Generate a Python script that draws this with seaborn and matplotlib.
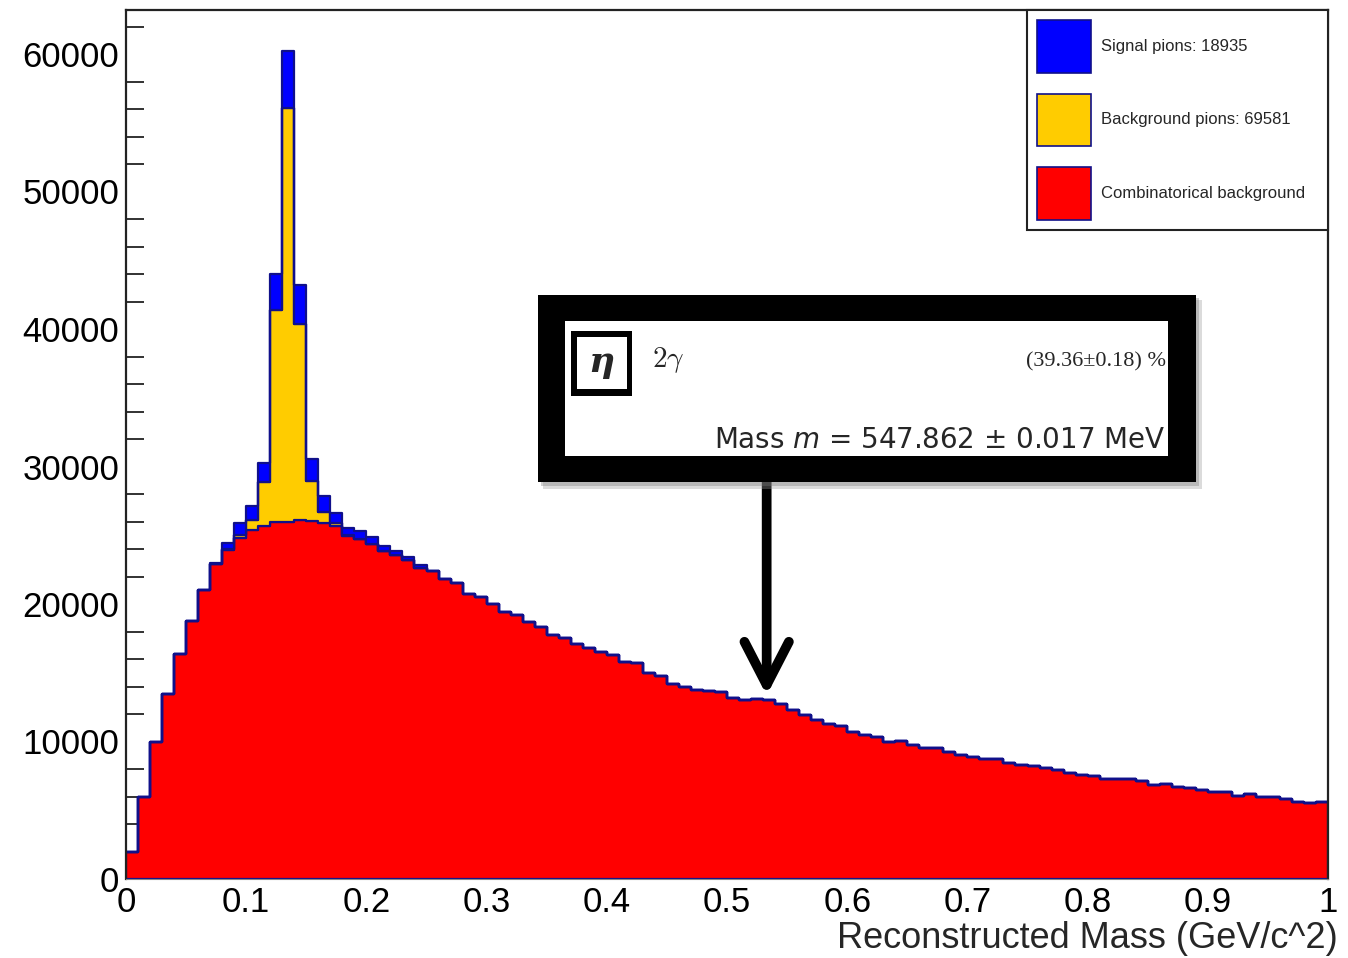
import numpy as np
import pandas as pd
import seaborn as sns
import matplotlib
matplotlib.use("Agg")
import matplotlib.pyplot as plt
from matplotlib.patches import Rectangle, Patch

# ---------------- data (counts per 0.01 GeV bin, 0..1) ----------------
n_bins = 100
bin_centers = (np.arange(n_bins) + 0.5) / n_bins

combinatorial = [
    1950, 6000, 10000, 13450, 16400, 18800, 21000, 22900, 23900, 24800,
    25400, 25650, 25950, 26000, 26100, 26050, 25900, 25650, 24950, 24750,
    24400, 23850, 23600, 23200, 22650, 22400, 21850, 21500, 20750, 20500,
    20000, 19400, 19200, 18700, 18350, 17750, 17500, 17100, 16800, 16500,
    16300, 15800, 15700, 15000, 14800, 14200, 14000, 13750, 13650, 13600,
    13200, 13000, 13100, 13000, 12700, 12300, 11900, 11600, 11300, 11100,
    10700, 10500, 10300, 10000, 10050, 9750, 9500, 9500, 9250, 9050,
    8850, 8700, 8750, 8450, 8300, 8200, 8100, 7900, 7700, 7550,
    7500, 7300, 7300, 7250, 7100, 6850, 6900, 6700, 6600, 6450,
    6300, 6300, 6050, 6200, 6000, 5950, 5800, 5600, 5500, 5600,
]
background_pions = [0] * 8 + [100, 250, 700, 3250, 15450, 30100, 14300, 2900, 800, 250, 100] + [0] * 81
signal_pions = [0] * 7 + [50, 450, 850, 1000, 1350, 2600, 4100, 2800, 1600, 1150, 700,
                          450, 550, 500, 400, 250, 200, 200] + [0] * 75

labels = ["Signal pions: 18935", "Background pions: 69581", "Combinatorical background"]
colors = ["#0000FF", "#FFCC00", "#FF0000"]
edge_col = "#10108A"
x_tick_values = [0, 0.1, 0.2, 0.3, 0.4, 0.5, 0.6, 0.7, 0.8, 0.9, 1.0]
x_tick_labels = ["0", "0.1", "0.2", "0.3", "0.4", "0.5", "0.6", "0.7", "0.8", "0.9", "1"]
y_tick_values = [0, 10000, 20000, 30000, 40000, 50000, 60000]

df = pd.concat([
    pd.DataFrame({"mass": bin_centers, "count": signal_pions, "component": labels[0]}),
    pd.DataFrame({"mass": bin_centers, "count": background_pions, "component": labels[1]}),
    pd.DataFrame({"mass": bin_centers, "count": combinatorial, "component": labels[2]}),
], ignore_index=True)

# ---------------- figure ----------------
sns.set_theme(style="white")
plt.rcParams["font.family"] = ["Liberation Sans", "DejaVu Sans"]
plt.rcParams["mathtext.fontset"] = "cm"

W, H = 1348, 958
fig = plt.figure(figsize=(W / 100, H / 100), dpi=100)
ax = fig.add_axes([126 / W, 1 - 879 / H, (1328 - 126) / W, (879 - 10) / H])

sns.histplot(
    data=df, x="mass", weights="count", hue="component", hue_order=labels,
    bins=n_bins, binrange=(0, 1), multiple="stack", element="step", palette=colors,
    edgecolor=edge_col, linewidth=1.6, alpha=1, legend=False, ax=ax,
)

ax.set_xlim(0, 1)
ax.set_ylim(0, 63200)
ax.set_ylabel("")
ax.set_xticks(x_tick_values)
ax.set_xticklabels(x_tick_labels, fontsize=25)
ax.set_yticks(y_tick_values)
ax.set_yticks(np.arange(0, 63201, 2000), minor=True)
ax.set_yticklabels([str(v) for v in y_tick_values], fontsize=25)
ax.tick_params(axis="x", length=0, pad=5, colors="black")
ax.tick_params(axis="y", which="major", direction="in", length=25, width=1.3, pad=5, colors="#222222",
               labelcolor="black")
ax.tick_params(axis="y", which="minor", direction="in", length=13, width=1.3, colors="#222222", left=True)

for s in ["left", "top", "right"]:
    ax.spines[s].set_visible(True)
    ax.spines[s].set_color("#222222")
    ax.spines[s].set_linewidth(1.6)
ax.spines["bottom"].set_color("#888888")
ax.spines["bottom"].set_linewidth(0.8)

ax.set_xlabel("Reconstructed Mass (GeV/c^2)", fontsize=26, ha="right", va="center")
ax.xaxis.set_label_coords((1338 - 126) / 1202, -(938 - 879) / 869)

# legend
handles = [Patch(facecolor=c, edgecolor=edge_col, linewidth=1.2) for c in colors]
leg = ax.legend(handles, labels, loc="upper left",
                bbox_to_anchor=(1027 / W, 1 - 227 / H, 301 / W, 217 / H), mode="expand",
                bbox_transform=fig.transFigure, borderaxespad=0, fontsize=12,
                handlelength=3.25, handleheight=4.5, labelspacing=1.25, handletextpad=0.6,
                borderpad=0.6, fancybox=False, framealpha=1, edgecolor="#222222")
leg.get_frame().set_linewidth(1.5)

# ---------------- annotation box ----------------
def fx(px):
    return px / W

def fy(py):
    return 1 - py / H

def rect_px(x0, y0, x1, y1, **kw):
    r = Rectangle((fx(x0), fy(y1)), (x1 - x0) / W, (y1 - y0) / H,
                  transform=fig.transFigure, **kw)
    fig.add_artist(r)
    return r

# shadow
rect_px(543, 300, 1202, 489, facecolor="#999999", edgecolor="none", alpha=0.35, zorder=5)
rect_px(541, 298, 1199, 486, facecolor="#777777", edgecolor="none", alpha=0.35, zorder=5)
rect_px(538, 295, 1196, 482, facecolor="black", edgecolor="none", zorder=6)
rect_px(565, 321, 1168, 456, facecolor="white", edgecolor="none", zorder=7)
# eta box
rect_px(571, 331, 632, 396, facecolor="black", edgecolor="none", zorder=8)
rect_px(577, 337, 627, 389, facecolor="white", edgecolor="none", zorder=9)

fig.text(fx(601), fy(362), "η", fontsize=26, fontweight="bold", style="italic",
         family="DejaVu Serif", ha="center", va="center", zorder=10)
fig.text(fx(652), fy(360), r"$2\gamma$", fontsize=21, ha="left", va="center", zorder=10)
fig.text(fx(1166), fy(362), "(39.36±0.18) %", fontsize=16,
         family=["Liberation Serif"], ha="right", va="center", zorder=10)
fig.text(fx(1166), fy(440), r"Mass $m$ = 547.862 $\pm$ 0.017 MeV", fontsize=20,
         family=["DejaVu Sans"], math_fontfamily="dejavusans",
         ha="right", va="center", zorder=10)

# arrow from box to the histogram
ax.annotate("", xy=(0.533, 13350), xytext=(0.533, 28900),
            arrowprops=dict(arrowstyle="->,head_length=3.1,head_width=1.6", lw=7, color="black",
                            shrinkA=0, shrinkB=0, mutation_scale=10,
                            capstyle="round", joinstyle="round"),
            zorder=4)

fig.savefig("out.png", dpi=100)
